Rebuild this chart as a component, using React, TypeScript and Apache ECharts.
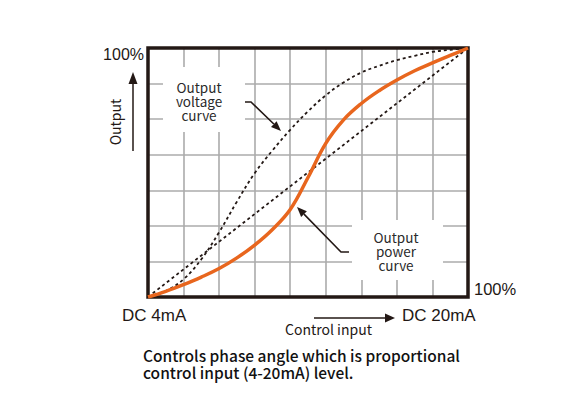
import React, { useEffect, useRef } from "react";
import * as echarts from "echarts";

// Axis extent in grid cells (9 columns x 7 rows)
const xCells = 9;
const yCells = 7;

// Output voltage curve (dashed, S-shaped)
const voltageX = [0, 0.5, 1, 1.5, 2, 2.5, 3, 3.5, 4, 4.5, 5, 5.5, 6, 6.5, 7, 7.5, 8, 8.5, 9];
const voltageY = [0, 0.17, 0.5, 1.06, 1.82, 2.68, 3.48, 4.12, 4.7, 5.22, 5.67, 6.03, 6.31, 6.5, 6.66, 6.78, 6.89, 6.95, 7];

// Output power curve (orange)
const powerX = [0, 0.5, 1, 1.5, 2, 2.5, 3, 3.5, 4, 4.5, 5, 5.5, 6, 6.5, 7, 7.5, 8, 8.5, 9];
const powerY = [0, 0.16, 0.35, 0.56, 0.8, 1.1, 1.46, 1.9, 2.46, 3.36, 4.32, 4.98, 5.44, 5.8, 6.1, 6.36, 6.58, 6.79, 7];

// Linear reference (dashed)
const linearX = [0, 9];
const linearY = [0, 7];

// Texts
const topLabel = "100%";
const rightLabel = "100%";
const startLabel = "DC 4mA";
const endLabel = "DC 20mA";
const xTitle = "Control input";
const yTitle = "Output";
const voltageLabel = "Output\nvoltage\ncurve";
const powerLabel = "Output\npower\ncurve";
const caption = "Controls phase angle which is proportional\ncontrol input (4-20mA) level.";

const pairs = (xs: number[], ys: number[]) => xs.map((x, i) => [x, ys[i]]);

const DARK = "#231815";
const SANS = "'Noto Sans CJK JP', 'Noto Sans', sans-serif";
const HELV = "'Liberation Sans', Arial, sans-serif";

function arrowHead(tip: [number, number], from: [number, number], len = 10, half = 4) {
  const dx = tip[0] - from[0];
  const dy = tip[1] - from[1];
  const d = Math.hypot(dx, dy);
  const ux = dx / d, uy = dy / d;
  const bx = tip[0] - ux * len, by = tip[1] - uy * len;
  const px = -uy * half, py = ux * half;
  return {
    base: [bx, by] as [number, number],
    points: [tip, [bx + px, by + py], [bx - px, by - py]],
  };
}

export default function App() {
  const ref = useRef<HTMLDivElement>(null);
  useEffect(() => {
    if (!ref.current) return;
    const chart = echarts.init(ref.current, undefined, { renderer: "svg" });

    const vHead = arrowHead([281, 131], [251, 102]);
    const pHead = arrowHead([297, 207], [341, 252]);
    const cHead = arrowHead([395, 318], [314, 318], 10, 4.5);
    const oHead = arrowHead([133, 72], [133, 150], 12, 4.5);

    const option: any = {
      animation: false,
      backgroundColor: "#ffffff",
      grid: {
        left: 148,
        top: 48,
        width: 320,
        height: 249,
        show: true,
        borderColor: DARK,
        borderWidth: 3.5,
        backgroundColor: "transparent",
        z: 3,
      },
      xAxis: {
        type: "value",
        min: 0,
        max: xCells,
        interval: 1,
        axisLine: { show: false },
        axisTick: { show: false },
        axisLabel: { show: false },
        splitLine: {
          show: true,
          showMinLine: false,
          showMaxLine: false,
          lineStyle: { color: "#ababab", width: 1.6 },
        },
      },
      yAxis: {
        type: "value",
        min: 0,
        max: yCells,
        interval: 1,
        axisLine: { show: false },
        axisTick: { show: false },
        axisLabel: { show: false },
        splitLine: {
          show: true,
          showMinLine: false,
          showMaxLine: false,
          lineStyle: { color: "#ababab", width: 1.6 },
        },
      },
      series: [
        {
          type: "line",
          data: pairs(linearX, linearY),
          showSymbol: false,
          lineStyle: { color: DARK, width: 1.8, type: [3, 3] },
          z: 4,
        },
        {
          type: "line",
          data: pairs(voltageX, voltageY),
          smooth: 0.4,
          showSymbol: false,
          lineStyle: { color: DARK, width: 1.8, type: [3, 3] },
          z: 4,
        },
        {
          type: "line",
          data: pairs(powerX, powerY),
          smooth: 0.4,
          showSymbol: false,
          lineStyle: { color: "#e8661e", width: 3.5 },
          z: 5,
        },
      ],
      graphic: [
        { type: "rect", z: 10, shape: { x: 163, y: 67, width: 82, height: 65 }, style: { fill: "#ffffff" } },
        { type: "rect", z: 10, shape: { x: 352, y: 220, width: 91, height: 60 }, style: { fill: "#ffffff" } },
        {
          type: "text", z: 11, x: 199, y: 101,
          style: { text: voltageLabel, font: `13.5px ${SANS}`, lineHeight: 14, fill: "#2a2a2a", align: "center", verticalAlign: "middle" },
        },
        {
          type: "text", z: 11, x: 396, y: 251,
          style: { text: powerLabel, font: `13.5px ${SANS}`, lineHeight: 14, fill: "#2a2a2a", align: "center", verticalAlign: "middle" },
        },
        // voltage arrow
        { type: "polyline", z: 11, shape: { points: [[245, 102], [251, 102], vHead.base] }, style: { stroke: DARK, lineWidth: 1.6, fill: null } },
        { type: "polygon", z: 11, shape: { points: vHead.points }, style: { fill: DARK } },
        // power arrow
        { type: "polyline", z: 11, shape: { points: [[349, 252], [341, 252], pHead.base] }, style: { stroke: DARK, lineWidth: 1.6, fill: null } },
        { type: "polygon", z: 11, shape: { points: pHead.points }, style: { fill: DARK } },
        // control input arrow
        { type: "line", z: 11, shape: { x1: 314, y1: 318, x2: cHead.base[0], y2: 318 }, style: { stroke: DARK, lineWidth: 1.5 } },
        { type: "polygon", z: 11, shape: { points: cHead.points }, style: { fill: DARK } },
        // output arrow
        { type: "line", z: 11, shape: { x1: 133, y1: 151, x2: 133, y2: oHead.base[1] }, style: { stroke: DARK, lineWidth: 1.5 } },
        { type: "polygon", z: 11, shape: { points: oHead.points }, style: { fill: DARK } },
        // axis texts
        {
          type: "text", z: 11, x: 144, y: 54,
          style: { text: topLabel, font: `16px ${HELV}`, fill: DARK, align: "right", verticalAlign: "middle" },
        },
        {
          type: "text", z: 11, x: 474, y: 289,
          style: { text: rightLabel, font: `16.5px ${HELV}`, fill: DARK, align: "left", verticalAlign: "middle" },
        },
        {
          type: "text", z: 11, x: 122, y: 315,
          style: { text: startLabel, font: `17px ${HELV}`, fill: DARK, align: "left", verticalAlign: "middle" },
        },
        {
          type: "text", z: 11, x: 402, y: 315,
          style: { text: endLabel, font: `17px ${HELV}`, fill: DARK, align: "left", verticalAlign: "middle" },
        },
        {
          type: "text", z: 11, x: 285, y: 329,
          style: { text: xTitle, font: `14px ${SANS}`, fill: DARK, align: "left", verticalAlign: "middle" },
        },
        {
          type: "text", z: 11, x: 115, y: 122, rotation: Math.PI / 2,
          style: { text: yTitle, font: `14px ${SANS}`, fill: DARK, align: "center", verticalAlign: "middle" },
        },
        {
          type: "text", z: 11, x: 143, y: 363,
          style: { text: caption, font: `500 15.5px ${SANS}`, lineHeight: 17, fill: "#111111", align: "left", verticalAlign: "middle" },
        },
      ],
    };
    chart.setOption(option);
    return () => chart.dispose();
  }, []);
  return <div ref={ref} style={{ position: "absolute", left: 0, top: 0, width: 580, height: 397 }} />;
}
